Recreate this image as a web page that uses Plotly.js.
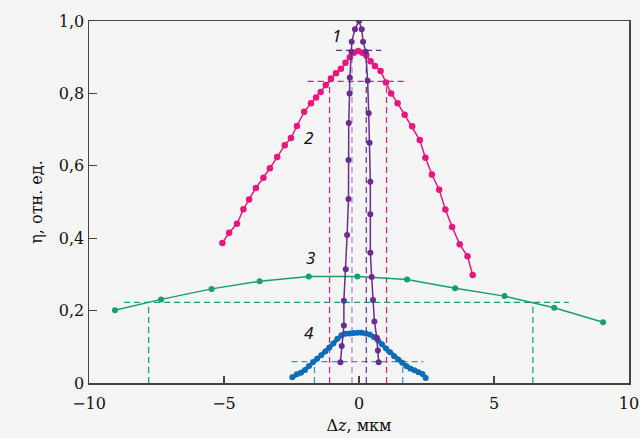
<!DOCTYPE html>
<html>
<head>
<meta charset="utf-8">
<script src="https://cdn.plot.ly/plotly-3.0.1.min.js"></script>
<style>html,body{margin:0;padding:0;background:#f5f5f5;}#chart{width:640px;height:438px;}</style>
</head>
<body>
<div id="chart"></div>
<script>
// Curve 1 (purple)
const c1x = [-0.69,-0.64,-0.56,-0.56,-0.49,-0.44,-0.39,-0.39,-0.38,-0.35,-0.34,-0.28,-0.27,-0.15,0,0.10,0.15,0.25,0.32,0.36,0.39,0.42,0.42,0.42,0.47,0.52,0.57,0.66,0.70,0.73];
const c1y = [0.057,0.102,0.159,0.227,0.314,0.409,0.508,0.616,0.718,0.80,0.844,0.915,0.943,0.977,1.0,0.977,0.943,0.915,0.835,0.745,0.664,0.556,0.466,0.36,0.293,0.229,0.17,0.125,0.09,0.057];
// Curve 2 (magenta)
const c2x = [-5.06,-4.81,-4.52,-4.28,-4.07,-3.82,-3.54,-3.30,-3.03,-2.75,-2.52,-2.30,-2.03,-1.78,-1.59,-1.42,-1.23,-1.04,-0.85,-0.67,-0.50,-0.34,-0.19,-0.03,0.13,0.27,0.43,0.59,0.80,1.00,1.19,1.43,1.69,1.97,2.25,2.46,2.70,2.97,3.20,3.45,3.73,4.02,4.21];
const c2y = [0.387,0.415,0.44,0.48,0.507,0.539,0.567,0.593,0.624,0.657,0.677,0.71,0.749,0.773,0.789,0.804,0.823,0.841,0.856,0.868,0.885,0.90,0.912,0.917,0.912,0.905,0.889,0.876,0.862,0.83,0.80,0.773,0.741,0.709,0.671,0.622,0.576,0.534,0.479,0.431,0.383,0.35,0.298];
// Curve 3 (green)
const c3x = [-9.04,-7.33,-5.46,-3.68,-1.86,-0.06,1.78,3.56,5.39,7.23,9.04];
const c3y = [0.201,0.231,0.26,0.281,0.294,0.294,0.286,0.262,0.24,0.208,0.168];
// Curve 4 (blue)
const c4x = [-2.47,-2.3,-2.15,-2.0,-1.85,-1.7,-1.55,-1.4,-1.25,-1.1,-0.95,-0.8,-0.65,-0.5,-0.35,-0.2,-0.05,0.1,0.25,0.4,0.55,0.7,0.85,1.0,1.15,1.3,1.45,1.6,1.75,1.9,2.05,2.2,2.35,2.47];
const c4y = [0.016,0.024,0.028,0.036,0.047,0.058,0.067,0.077,0.087,0.098,0.109,0.122,0.132,0.136,0.137,0.138,0.139,0.139,0.137,0.134,0.127,0.118,0.107,0.095,0.085,0.074,0.065,0.056,0.047,0.04,0.035,0.03,0.025,0.014];

// Width reference levels: [level, left x, right x, hline start, hline end]
const lev1 = [0.919, -0.26, 0.27, -0.85, 0.82];
const lev2 = [0.833, -1.09, 1.02, -1.9, 1.76];
const lev3 = [0.2225, -7.79, 6.44, -8.7, 7.77];
const lev4 = [0.059, -1.65, 1.62, -2.5, 2.38];

const curveLabels = ['1','2','3','4'];
const labelX = [-0.83, -1.88, -1.81, -1.85];
const labelY = [0.96, 0.679, 0.347, 0.14];

const yTickVals = [0, 0.2, 0.4, 0.6, 0.8, 1.0];
const yTickText = ['0', '0,2', '0,4', '0,6', '0,8', '1,0'];
const xTickVals = [-10, -5, 0, 5, 10];
const xTickText = ['\u221210', '\u22125', '0', '5', '10'];

const purple = '#6a2c8e', purpleLight = '#a482c4', magenta = '#e8177e', green = '#17a06d', blue = '#0b6db8';
const dashPat = '6px,4px';

function levelTraces(lev, colL, colR, colH) {
  return [
    {x:[lev[3], lev[4]], y:[lev[0], lev[0]], mode:'lines', line:{color:colH, width:1.2, dash:dashPat}, hoverinfo:'skip', showlegend:false},
    {x:[lev[1], lev[1]], y:[0, lev[0]], mode:'lines', line:{color:colL, width:1.2, dash:dashPat}, hoverinfo:'skip', showlegend:false},
    {x:[lev[2], lev[2]], y:[0, lev[0]], mode:'lines', line:{color:colR, width:1.2, dash:dashPat}, hoverinfo:'skip', showlegend:false}
  ];
}

const traces = [].concat(
  levelTraces(lev3, green, green, green),
  levelTraces(lev4, '#3b8fd0', '#3b8fd0', '#3b8fd0'),
  levelTraces(lev2, magenta, magenta, magenta),
  levelTraces(lev1, purpleLight, purple, purple),
  [
    {x:c3x, y:c3y, mode:'lines+markers', line:{color:green, width:1.5}, marker:{color:green, size:6}, showlegend:false},
    {x:c4x, y:c4y, mode:'lines+markers', line:{color:blue, width:4}, marker:{color:blue, size:6}, showlegend:false},
    {x:c2x, y:c2y, mode:'lines+markers', line:{color:magenta, width:1.5}, marker:{color:magenta, size:6.5}, showlegend:false},
    {x:c1x, y:c1y, mode:'lines+markers', line:{color:purple, width:1.5}, marker:{color:purple, size:6}, showlegend:false}
  ]
);

const annotations = curveLabels.map((t, i) => ({
  x: labelX[i], y: labelY[i], text: '<i>' + t + '</i>', showarrow: false,
  font: {family: 'Noto Sans, DejaVu Sans, sans-serif', size: 17, color: '#111'}
}));

const layout = {
  width: 640, height: 438,
  margin: {l: 89, r: 11, t: 21, b: 55, pad: 0},
  paper_bgcolor: '#f5f5f5', plot_bgcolor: '#f5f5f5',
  font: {family: 'DejaVu Serif, serif', size: 16, color: '#111'},
  showlegend: false,
  xaxis: {
    range: [-10, 10], tickvals: xTickVals, ticktext: xTickText,
    ticks: 'inside', ticklen: 7, tickcolor: '#444', tickwidth: 1.2,
    ticklabelstandoff: 5,
    showline: true, linecolor: '#444', linewidth: 1.5, mirror: true,
    showgrid: false, zeroline: false, automargin: false,
    tickfont: {family: 'DejaVu Serif, serif', size: 16, color: '#111'},
    title: {text: '\u0394<i>z</i>, мкм', font: {family: 'DejaVu Serif, serif', size: 16, color: '#111'}, standoff: 8}
  },
  yaxis: {
    range: [0, 1.0], tickvals: yTickVals, ticktext: yTickText,
    ticks: 'inside', ticklen: 8, tickcolor: '#444', tickwidth: 1.2,
    showline: true, linecolor: '#444', linewidth: 1.5, mirror: true,
    showgrid: false, zeroline: false, automargin: false,
    tickfont: {family: 'DejaVu Serif, serif', size: 16, color: '#111'},
    title: {text: '\u03b7, отн. ед.', font: {family: 'DejaVu Serif, serif', size: 16, color: '#111'}, standoff: 12}
  },
  annotations: annotations
};

Plotly.newPlot('chart', traces, layout, {displayModeBar: false, staticPlot: true});
</script>
</body>
</html>
